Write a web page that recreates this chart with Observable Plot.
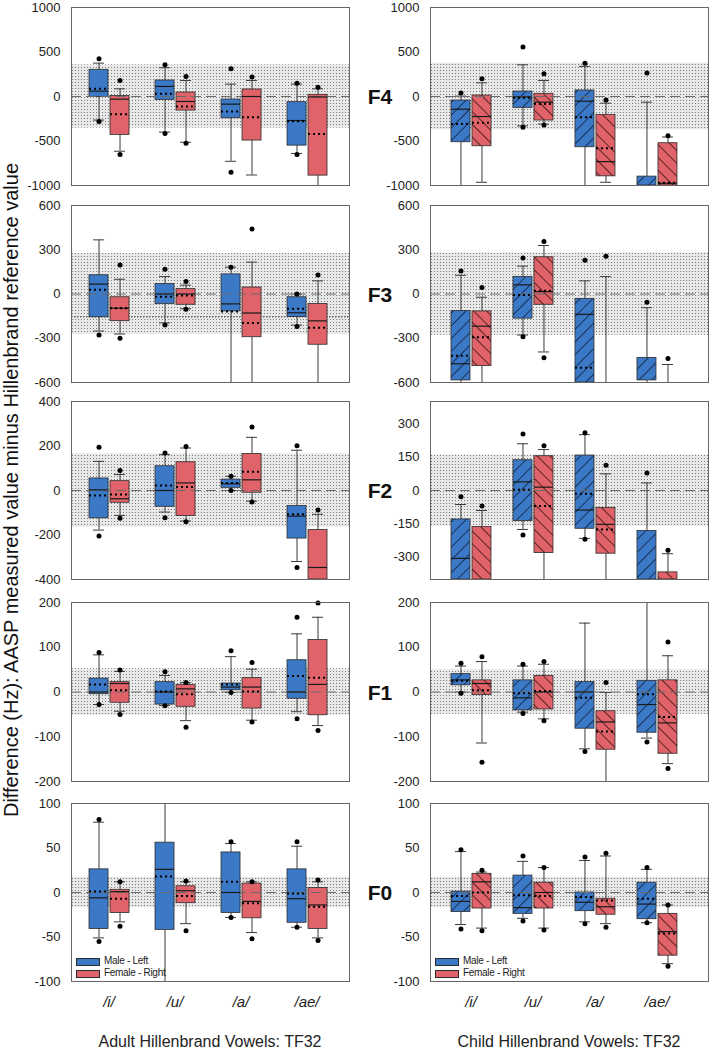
<!DOCTYPE html>
<html><head><meta charset="utf-8">
<script src="https://cdn.jsdelivr.net/npm/d3@7"></script>
<script src="https://cdn.jsdelivr.net/npm/@observablehq/plot@0.6"></script>
<style>
body{margin:0;background:#fff;font-family:Arial,"Liberation Sans",sans-serif;color:#222;}
#root{position:relative;width:710px;height:1050px;overflow:hidden;}
.abs{position:absolute;white-space:nowrap;line-height:1;}
</style></head><body>
<svg width="0" height="0" style="position:absolute">
<defs>
<pattern id="stipple" width="3" height="3" patternUnits="userSpaceOnUse">
<rect width="3" height="3" fill="#e8e8e8"/>
<rect width="1" height="1" fill="#7c7c7c"/>
</pattern>
<pattern id="hatchBlue" width="9" height="9" patternUnits="userSpaceOnUse" patternTransform="rotate(45)">
<rect width="9" height="9" fill="#3b78c6"/>
<line x1="4.5" y1="0" x2="4.5" y2="9" stroke="#16335c" stroke-width="1"/>
</pattern>
<pattern id="hatchRed" width="9" height="9" patternUnits="userSpaceOnUse" patternTransform="rotate(-45)">
<rect width="9" height="9" fill="#e0636a"/>
<line x1="4.5" y1="0" x2="4.5" y2="9" stroke="#5e2226" stroke-width="1"/>
</pattern>
</defs>
</svg>
<div id="root"></div>
<script>
const vowels = ["/i/", "/u/", "/a/", "/ae/"];
const formants = ["F4", "F3", "F2", "F1", "F0"];
const yDomains = [[-1000, 1000], [-600, 600], [-400, 400], [-200, 200], [-100, 100]];
const adultTicks = [[-1000, -500, 0, 500, 1000], [-600, -300, 0, 300, 600], [-400, -200, 0, 200, 400], [-200, -100, 0, 100, 200], [-100, -50, 0, 50, 100]];
const childTicks = [[-1000, -500, 0, 500, 1000], [-600, -300, 0, 300, 600], [-300, -150, 0, 150, 300], [-200, -100, 0, 100, 200], [-100, -50, 0, 50, 100]];
const adultBand = [355, 275, 165, 52, 17];
const childBand = [375, 280, 160, 50, 17];
const adultF3RefLine = -155;
const legendLabels = ["Male - Left", "Female - Right"];
const columnTitles = ["Adult Hillenbrand Vowels: TF32", "Child Hillenbrand Vowels: TF32"];
const yLabel = "Difference (Hz):  AASP measured value minus Hillenbrand reference value";

// each row (one per vowel): [whiskerLow, q1, median, q3, whiskerHigh, mean, dotLow, dotHigh]
const adultF4Male = [[-265, -5, 60, 300, 375, 86, -280, 424], [-400, -38, 113, 180, 323, 30, -415, 356], [-728, -244, -86, -34, 139, -169, -852, 311], [-640, -552, -270, -64, 139, -278, -653, 150]];
const adultF4Female = [[-615, -431, -30, 5, 86, -199, -653, 180], [-514, -158, -56, 45, 180, -113, -525, 225], [-882, -495, 0, 79, 180, -233, null, 218], [-1100, -889, -5, 19, 86, -420, null, 105]];
const adultF3Male = [[-251, -158, 67, 127, 367, 29, -278, null], [-196, -67, 0, 67, 118, -18, -211, 167], [-700, -118, -67, 133, 182, -118, null, 182], [-211, -156, -127, -22, 0, -100, -220, 0]];
const adultF3Female = [[-271, -184, -96, -22, 100, -96, -300, 196], [-100, -73, 0, 33, 60, -11, -104, 84], [-700, -293, -129, 44, 216, -196, null, 440], [-700, -344, -182, -67, 89, -229, null, 129]];
const adultF2Male = [[-178, -125, 3, 54, 131, -22, -204, 194], [-97, -73, 0, 109, 161, 22, -122, 169], [0, 12, 30, 49, 64, 34, 0, 64], [-319, -216, -115, -70, 181, -107, -346, 201]];
const adultF2Female = [[-112, -55, -37, 42, 72, -18, -125, 90], [-137, -115, 34, 127, 191, 16, -140, 198], [-48, -10, 48, 164, 239, 84, -52, 285], [-450, -450, -346, -178, -107, null, null, -88]];
const adultF1Male = [[-28, -5, 0, 30, 83, 17, -28, 88], [-30, -28, 0, 22, 37, 1, -31, 45], [-1, 4, 11, 19, 79, 17, -1, 92], [-44, -15, 0, 71, 130, 36, -60, 167]];
const adultF1Female = [[-43, -24, 19, 22, 46, 4, -50, 49], [-64, -33, 7, 16, 21, -5, -79, 21], [-63, -37, 11, 31, 51, 1, -67, 66], [-75, -52, 17, 116, 167, 32, -86, 199]];
const adultF0Male = [[-51, -41, -6, 26, 79, 1, -55, 82], [-110, -42, 26, 56, 110, 18, null, null], [-28, -23, 0, 45, 55, 12, -28, 57], [-39, -34, -7, 26, 52, -1, -39, 57]];
const adultF0Female = [[-33, -23, 1, 3, 12, -7, -38, 12], [-35, -12, 2, 7, 12, -4, -43, 13], [-45, -29, -10, 10, 12, -12, -52, 12], [-51, -41, -14, 5, 12, -16, -54, 14]];

const childF4Male = [[-1100, -514, -143, -45, 4, -308, null, 38], [-330, -128, -5, 56, 356, -15, -345, 555], [-1100, -570, -53, 68, 338, -233, null, 375], [-1100, -1100, null, -900, -64, null, null, 263]];
const childF4Female = [[-964, -559, -225, 11, 154, -296, null, 199], [-310, -270, -64, 30, 180, -83, -319, 255], [-964, -897, -732, -206, -75, -582, null, -38], [-1100, -1100, -975, -525, -455, -970, null, -440]];
const childF3Male = [[-700, -586, -473, -116, 127, -418, null, 156], [-278, -167, 62, 116, 189, -7, -289, 244], [-700, -650, -138, -33, 89, -500, null, 229], [-700, -586, null, -433, -93, null, null, -56]];
const childF3Female = [[-700, -489, -218, -118, -22, -293, null, 44], [-393, -73, 16, 249, 329, 22, -433, 356], [-700, -900, null, -650, 118, null, null, 256], [-700, -900, null, -650, -478, null, null, -438]];
const childF2Male = [[-450, -450, -305, -130, -63, null, null, -28], [-175, -137, 39, 136, 210, 3, -200, 254], [-215, -172, -88, 157, 251, -15, -219, 260], [-450, -450, null, -182, 34, null, null, 79]];
const childF2Female = [[-450, -450, null, -164, -90, null, null, -70], [-450, -281, 15, 154, 184, -70, null, 201], [-450, -284, -152, -78, 75, -175, null, 113], [-450, -450, null, -368, -284, null, null, -269]];
const childF1Male = [[0, 15, 27, 40, 58, 25, -3, 64], [-45, -41, -13, 26, 58, -3, -48, 62], [-127, -82, 0, 22, 154, -13, -133, null], [-103, -91, -28, 25, 210, -5, -112, null]];
const childF1Female = [[-114, -7, 19, 26, 68, 4, -157, 79], [-60, -39, 0, 36, 62, 2, -64, 68], [-210, -129, -67, -43, -1, -88, null, 21], [-160, -138, -69, 26, 81, -56, -171, 112]];
const childF0Male = [[-36, -22, -10, 1, 46, -4, -41, 48], [-29, -24, -17, 19, 35, -3, -32, 41], [-33, -21, -11, 0, 36, -5, -35, 40], [-34, -30, -13, 11, 26, -7, -34, 28]];
const childF0Female = [[-40, -18, 12, 21, 23, 0, -43, 25], [-40, -18, 0, 11, 28, -4, -42, 28], [-35, -25, -16, -7, 41, -9, -39, 44], [-80, -71, -44, -24, -14, -46, -83, -14]];

const adultStats = {male: [adultF4Male, adultF3Male, adultF2Male, adultF1Male, adultF0Male], female: [adultF4Female, adultF3Female, adultF2Female, adultF1Female, adultF0Female]};
const childStats = {male: [childF4Male, childF3Male, childF2Male, childF1Male, childF0Male], female: [childF4Female, childF3Female, childF2Female, childF1Female, childF0Female]};

// ---------- layout / style ----------
const BLUE = "#3b78c6", RED = "#e0636a";
const FONT = "Arial, 'Liberation Sans', sans-serif";
const PANEL_W = 278;
const COLS = [{x0: 71, dom: [-0.576, 3.636]}, {x0: 430, dom: [-0.661, 3.823]}];
const ROWS = [[7, 185], [205, 382], [401, 579], [602, 781], [803, 981]];
const ML = 62, MR = 1, MT = 6, MB = 6;
const root = document.getElementById("root");

function addText(txt, style) {
  const d = document.createElement("div");
  d.className = "abs";
  d.textContent = txt;
  Object.assign(d.style, style);
  root.appendChild(d);
  return d;
}

function buildPanel(col, row) {
  const isChild = col === 1;
  const [y0, y1] = ROWS[row];
  const ph = y1 - y0;
  const {x0, dom} = COLS[col];
  const ppu = PANEL_W / (dom[1] - dom[0]);
  const u = px => px / ppu;
  const [dmin, dmax] = yDomains[row];
  const inD = v => v != null && v >= dmin && v <= dmax;
  const src = isChild ? childStats : adultStats;
  const recs = [];
  ["male", "female"].forEach((sex, s) => {
    src[sex][row].forEach((v, i) => {
      const [wlo, q1, med, q3, whi, mean, olo, ohi] = v;
      recs.push({i, sex, cx: i + u(s === 0 ? -10.5 : 10.5), wlo, q1, med, q3, whi, mean, olo, ohi});
    });
  });
  const males = recs.filter(d => d.sex === "male");
  const females = recs.filter(d => d.sex === "female");
  const band = isChild ? childBand[row] : adultBand[row];
  const boxX1 = d => d.cx - u(9.5), boxX2 = d => d.cx + u(9.5);
  const capX1 = d => d.cx - u(5.5), capX2 = d => d.cx + u(5.5);
  const dots = [];
  recs.forEach(d => { if (inD(d.olo)) dots.push({cx: d.cx, v: d.olo}); if (inD(d.ohi)) dots.push({cx: d.cx, v: d.ohi}); });
  const marks = [
    Plot.rect([{lo: -band, hi: band}], {x1: () => dom[0], x2: () => dom[1], y1: "lo", y2: "hi", fill: "url(#stipple)"}),
  ];
  if (!isChild && row === 1) marks.push(Plot.ruleY([adultF3RefLine], {stroke: "#444", strokeWidth: 1.2, strokeDasharray: "1,2"}));
  marks.push(
    Plot.ruleX(recs.filter(d => d.whi != null), {x: "cx", y1: "q3", y2: "whi", stroke: "#3a3a3a", strokeWidth: 1}),
    Plot.ruleX(recs.filter(d => d.wlo != null), {x: "cx", y1: "q1", y2: "wlo", stroke: "#3a3a3a", strokeWidth: 1}),
    Plot.ruleY(recs.filter(d => inD(d.whi)), {y: "whi", x1: capX1, x2: capX2, stroke: "#3a3a3a", strokeWidth: 1}),
    Plot.ruleY(recs.filter(d => inD(d.wlo)), {y: "wlo", x1: capX1, x2: capX2, stroke: "#3a3a3a", strokeWidth: 1}),
    Plot.rect(males, {x1: boxX1, x2: boxX2, y1: "q1", y2: "q3", fill: isChild ? "url(#hatchBlue)" : BLUE, stroke: "#2b2b2b", strokeWidth: 0.8}),
    Plot.rect(females, {x1: boxX1, x2: boxX2, y1: "q1", y2: "q3", fill: isChild ? "url(#hatchRed)" : RED, stroke: "#2b2b2b", strokeWidth: 0.8}),
    Plot.ruleY([0], {stroke: "#6a6a6a", strokeWidth: 1, strokeDasharray: "10,5"}),
    Plot.ruleY(recs.filter(d => inD(d.med)), {y: "med", x1: boxX1, x2: boxX2, stroke: "#1a1a1a", strokeWidth: 1.2}),
    Plot.ruleY(recs.filter(d => inD(d.mean)), {y: "mean", x1: boxX1, x2: boxX2, stroke: "#000", strokeWidth: 2, strokeDasharray: "2,3"}),
    Plot.dot(dots, {x: "cx", y: "v", r: 2.5, fill: "#000", stroke: "none"}),
    Plot.frame({stroke: "#666", strokeWidth: 1})
  );
  const svg = Plot.plot({
    width: PANEL_W + ML + MR,
    height: ph + MT + MB,
    marginLeft: ML, marginRight: MR, marginTop: MT, marginBottom: MB,
    x: {domain: dom, axis: null},
    y: {domain: [dmin, dmax], clamp: true, ticks: (isChild ? childTicks : adultTicks)[row], tickSize: 0, tickPadding: 11, tickFormat: d => String(d), label: null},
    style: {fontSize: "13px", fontFamily: FONT, color: "#222", background: "transparent", overflow: "visible"},
    marks
  });
  svg.style.position = "absolute";
  svg.style.left = (x0 - ML) + "px";
  svg.style.top = (y0 - MT) + "px";
  root.appendChild(svg);

  const yPix = v => y0 + (dmax - v) / (dmax - dmin) * ph;
  if (isChild) {
    addText(formants[row], {left: "380px", top: yPix(0) + "px", transform: "translate(-50%,-50%)", fontSize: "21px", fontWeight: "bold", fontFamily: FONT, color: "#111"});
  }
  if (row === 4) {
    [BLUE, RED].forEach((c, k) => {
      const top = 958 + k * 12;
      const sw = document.createElement("div");
      sw.className = "abs";
      Object.assign(sw.style, {left: (x0 + 5) + "px", top: top + "px", width: "22px", height: "6px", background: c, border: "0.8px solid #2b2b2b"});
      root.appendChild(sw);
      addText(legendLabels[k], {left: (x0 + 33) + "px", top: (top - 2) + "px", fontSize: "10px", fontFamily: FONT, color: "#222", letterSpacing: "-0.3px"});
    });
    vowels.forEach((v, i) => {
      const cx = x0 + (i - dom[0]) * ppu;
      addText(v, {left: cx + "px", top: "1001px", transform: "translate(-50%,-50%)", fontSize: "15px", fontStyle: "italic", fontFamily: FONT, color: "#222"});
    });
    addText(columnTitles[col], {left: (x0 + PANEL_W / 2) + "px", top: "1042px", transform: "translate(-50%,-50%)", fontSize: "16px", fontFamily: FONT, color: "#222"});
  }
}

for (let r = 0; r < 5; r++) for (let c = 0; c < 2; c++) buildPanel(c, r);

addText(yLabel, {left: "11px", top: "490px", transform: "translate(-50%,-50%) rotate(-90deg)", fontSize: "20px", fontFamily: FONT, color: "#111"});
</script>
</body></html>
